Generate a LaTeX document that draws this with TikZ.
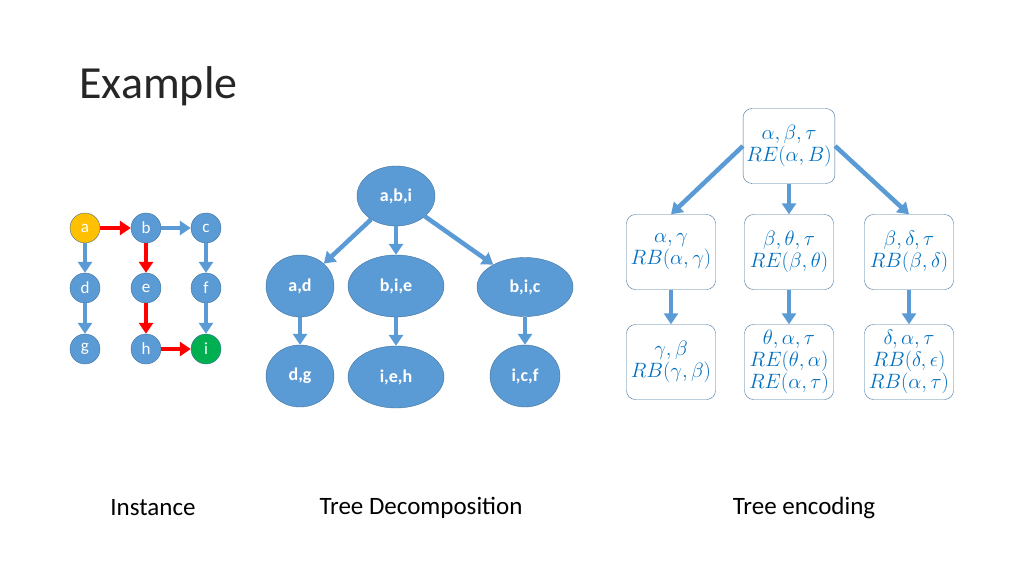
\documentclass[tikz,border=0pt]{standalone}
\usepackage{fontspec}
\setmainfont{Carlito}
\usepackage{amssymb, amsmath}
\usetikzlibrary{arrows.meta}
\usetikzlibrary{shapes.geometric}
\definecolor{node-fill}{HTML}{5B9BD5}
\definecolor{node-line}{HTML}{41719C}
\definecolor{enc-text}{HTML}{0070C0}
\definecolor{title-text}{HTML}{262626}
\definecolor{start-fill}{HTML}{FFC000}
\definecolor{end-fill}{HTML}{00B050}
\tikzset{
  vertex/.style={circle, fill=node-fill, draw=node-line, minimum size=30pt, inner sep=0pt, text=white, font=\fontsize{17}{17}\selectfont},
  bag/.style={ellipse, fill=node-fill, draw=node-line, inner sep=0pt, text=white, font=\fontsize{18}{18}\selectfont\bfseries},
  encbox/.style={rectangle, rounded corners=9pt, draw=node-line, fill=white, minimum width=89pt, minimum height=75pt, text=enc-text, align=center, font=\fontsize{19.5}{22}\selectfont},
  bluearrow/.style={-{Triangle[width=14pt,length=11pt]}, line width=4.5pt, node-fill},
  redarrow/.style={-{Triangle[width=14pt,length=11pt]}, line width=4.5pt, red},
  caption/.style={font=\fontsize{25}{25}\selectfont, text=black}
}
\begin{document}
\begin{tikzpicture}[x=1pt, y=-1pt]
    \useasboundingbox (0,0) rectangle (1024,576);
    \node[anchor=west, font=\fontsize{46}{46}\selectfont, text=title-text] (title) at (76,86) {Example};
    % instance graph
    \node[vertex, fill=start-fill] (a) at (85,228) {a};
    \node[vertex] (b) at (146,228) {b};
    \node[vertex] (c) at (206,228) {c};
    \node[vertex] (d) at (85,288) {d};
    \node[vertex] (e) at (146,288) {e};
    \node[vertex] (f) at (206,288) {f};
    \node[vertex] (g) at (85,349) {g};
    \node[vertex] (h) at (146,349) {h};
    \node[vertex, fill=end-fill] (i) at (206,349) {i};
    \draw[bluearrow] (a) -- (d);
    \draw[bluearrow] (d) -- (g);
    \draw[bluearrow] (b) -- (c);
    \draw[bluearrow] (c) -- (f);
    \draw[bluearrow] (f) -- (i);
    \draw[redarrow] (a) -- (b);
    \draw[redarrow] (b) -- (e);
    \draw[redarrow] (e) -- (h);
    \draw[redarrow] (h) -- (i);
    % tree decomposition
    \node[bag, minimum width=78pt, minimum height=60pt] (abi) at (396,196) {a,b,i};
    \node[bag, minimum width=68pt, minimum height=62pt] (ad) at (300,286) {a,d};
    \node[bag, minimum width=96pt, minimum height=62pt] (bie) at (396,286) {b,i,e};
    \node[bag, minimum width=96pt, minimum height=59pt] (bic) at (525,287) {b,i,c};
    \node[bag, minimum width=68pt, minimum height=62pt] (dg) at (300,376) {d,g};
    \node[bag, minimum width=96pt, minimum height=62pt] (ieh) at (396,377) {i,e,h};
    \node[bag, minimum width=70pt, minimum height=62pt] (icf) at (525,376) {i,c,f};
    \draw[bluearrow] (abi) -- (ad);
    \draw[bluearrow] (abi) -- (bie);
    \draw[bluearrow] (abi) -- (bic);
    \draw[bluearrow] (ad) -- (dg);
    \draw[bluearrow] (bie) -- (ieh);
    \draw[bluearrow] (bic) -- (icf);
    % tree encoding
    \node[encbox] (top) at (789,146) {$\alpha,\beta,\tau$\\$RE(\alpha,B)$};
    \node[encbox] (left) at (671,252) {$\alpha,\gamma$\\$RB(\alpha,\gamma)$};
    \node[encbox] (mid) at (789,252) {$\beta,\theta,\tau$\\$RE(\beta,\theta)$};
    \node[encbox] (right) at (909,252) {$\beta,\delta,\tau$\\$RB(\beta,\delta)$};
    \node[encbox] (leftlow) at (671,362) {$\gamma,\beta$\\$RB(\gamma,\beta)$};
    \node[encbox] (midlow) at (789,362) {$\theta,\alpha,\tau$\\$RE(\theta,\alpha)$\\$RE(\alpha,\tau)$};
    \node[encbox] (rightlow) at (909,362) {$\delta,\alpha,\tau$\\$RB(\delta,\epsilon)$\\$RB(\alpha,\tau)$};
    \draw[bluearrow] (top.west) -- (left.north);
    \draw[bluearrow] (top) -- (mid);
    \draw[bluearrow] (top.east) -- (right.north);
    \draw[bluearrow] (left) -- (leftlow);
    \draw[bluearrow] (mid) -- (midlow);
    \draw[bluearrow] (right) -- (rightlow);
    % captions
    \node[caption] (capinst) at (153,508) {Instance};
    \node[caption] (captd) at (421,508) {Tree Decomposition};
    \node[caption] (capenc) at (804,508) {Tree encoding};
\end{tikzpicture}
\end{document}
